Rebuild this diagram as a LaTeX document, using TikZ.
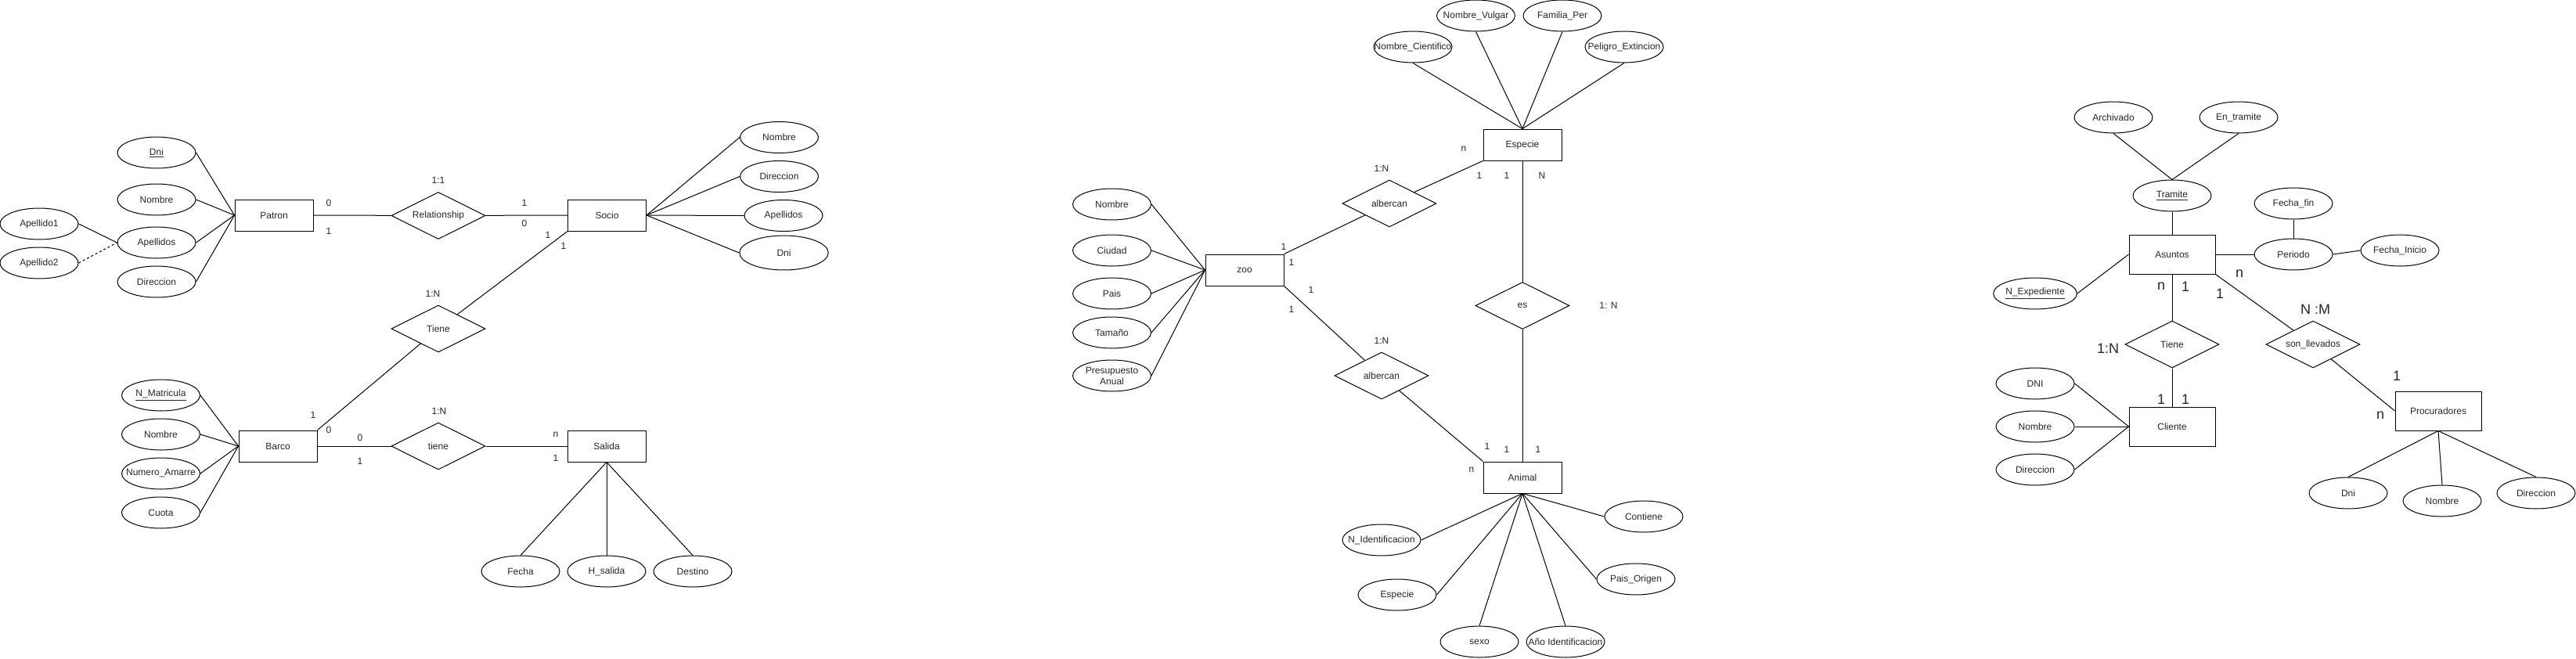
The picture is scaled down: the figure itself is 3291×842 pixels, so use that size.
\documentclass[tikz,border=0pt]{standalone}
\usepackage{fontspec}
\setmainfont{Liberation Sans}
\usetikzlibrary{shapes.geometric}
\newcommand{\zb}[1]{\makebox[0pt][c]{#1}}
\begin{document}
\begin{tikzpicture}[x=0.75pt,y=-0.75pt,
  every node/.style={font=\fontsize{9pt}{10.5pt}\selectfont, text=black!85},
  ent/.style={draw=black, line width=0.75pt, rectangle, minimum width=75pt, minimum height=30pt, inner sep=0pt},
  bigent/.style={ent, minimum width=82.5pt, minimum height=37.5pt},
  attr/.style={draw=black, line width=0.75pt, ellipse, minimum width=75pt, minimum height=30pt, inner sep=0pt},
  rel/.style={draw=black, line width=0.75pt, diamond, aspect=2, minimum width=90pt, minimum height=45pt, inner sep=0pt},
  lbl/.style={inner sep=0pt},
  biglbl/.style={inner sep=0pt, font=\fontsize{13.5pt}{16pt}\selectfont},
  lk/.style={draw=black, line width=0.75pt},
  dlk/.style={lk, dash pattern=on 2.25pt off 2.25pt}
]
\useasboundingbox (0,0) rectangle (3291,842);

% ---------------- Left diagram ----------------
\node[ent] (patron) at (350,275) {Patron};
\node[attr] (pdni) at (200,195) {\underline{Dni}};
\node[attr] (pnom) at (200,255) {Nombre};
\node[attr] (pape) at (200,310) {Apellidos};
\node[attr] (pdir) at (200,360) {Direccion};
\node[attr] (ape1) at (50,286) {Apellido1};
\node[attr] (ape2) at (50,336) {Apellido2};
\foreach \a in {pdni,pnom,pape,pdir} \draw[lk] (\a.east) -- (patron.west);
\draw[lk] (ape1.east) -- (pape.west);
\draw[dlk] (ape2.east) -- (pape.west);

\node[rel] (relship) at (560,275.5) {Relationship};
\node[ent] (socio) at (775.5,275) {Socio};
\draw[lk] (patron.east) -- (relship);
\draw[lk] (relship) -- (socio.west);

\node[attr] (snom) at (995.5,175.5) {Nombre};
\node[attr] (sdir) at (995.5,225.5) {Direccion};
\node[attr] (sape) at (1001,275.5) {Apellidos};
\node[attr, minimum width=85pt, minimum height=33pt] (sdni) at (1001.5,323) {Dni};
\foreach \a in {snom,sdir,sape,sdni} \draw[lk] (socio.east) -- (\a.west);

\node[rel] (tiene1) at (560,420) {Tiene};
\node[ent] (barco) at (355,570) {Barco};
\draw[lk] (barco.north east) -- (tiene1);
\draw[lk] (tiene1) -- (socio.south west);

\node[attr] (bmat) at (205.5,505) {\underline{N\_Matricula}};
\node[attr] (bnom) at (205.5,555) {Nombre};
\node[attr] (bnum) at (205.5,605) {\zb{Numero\_Amarre}};
\node[attr] (bcuo) at (205.5,655) {Cuota};
\foreach \a in {bmat,bnom,bnum,bcuo} \draw[lk] (\a.east) -- (barco.west);

\node[rel] (tiene2) at (560,570) {tiene};
\node[ent] (salida) at (775,570) {Salida};
\draw[lk] (barco.east) -- (tiene2);
\draw[lk] (tiene2) -- (salida.west);

\node[attr] (sfec) at (665,730) {Fecha};
\node[attr] (shsa) at (775,730) {H\_salida};
\node[attr] (sdes) at (885,730) {Destino};
\foreach \a in {sfec,shsa,sdes} \draw[lk] (salida.south) -- (\a.north);

\node[lbl] (l1) at (560,230) {1:1};
\node[lbl] (l2) at (420,259) {0};
\node[lbl] (l3) at (420,295) {1};
\node[lbl] (l4) at (670,259) {1};
\node[lbl] (l5) at (670,285) {0};
\node[lbl] (l6) at (700,300) {1};
\node[lbl] (l7) at (720,314) {1};
\node[lbl] (l8) at (553,375) {1:N};
\node[lbl] (l9) at (400,530) {1};
\node[lbl] (l10) at (420,549) {0};
\node[lbl] (l11) at (460,559) {0};
\node[lbl] (l12) at (460,589) {1};
\node[lbl] (l13) at (561,525) {1:N};
\node[lbl] (l14) at (710,555) {n};
\node[lbl] (l15) at (710,585) {1};

% ---------------- Middle diagram ----------------
\node[ent] (zoo) at (1590,345) {zoo};
\node[attr] (znom) at (1420.5,261) {Nombre};
\node[attr] (zciu) at (1420.5,320) {Ciudad};
\node[attr] (zpai) at (1420.5,375) {Pais};
\node[attr] (ztam) at (1420.5,425) {Tamaño};
\node[attr, align=center] (zpre) at (1420.5,480) {Presupuesto\\Anual};
\foreach \a in {znom,zciu,zpai,ztam,zpre} \draw[lk] (\a.east) -- (zoo.west);

\node[ent] (especie) at (1945,185) {Especie};
\node[attr] (enci) at (1805,60) {\zb{Nombre\_Cientifico}};
\node[attr] (envu) at (1885.5,20) {\zb{Nombre\_Vulgar}};
\node[attr] (efam) at (1996,20) {\zb{Familia\_Per}};
\node[attr] (epel) at (2075,60) {\zb{Peligro\_Extincion}};
\foreach \a in {enci,envu,efam,epel} \draw[lk] (\a.south) -- (especie.north);

\node[rel] (alb1) at (1775,260) {albercan};
\node[rel] (alb2) at (1765,480) {albercan};
\node[rel] (es) at (1945,390.5) {es};
\node[ent] (animal) at (1945,610) {Animal};
\draw[lk] (zoo.north east) -- (alb1);
\draw[lk] (alb1) -- (especie.south west);
\draw[lk] (zoo.south east) -- (alb2);
\draw[lk] (alb2) -- (animal.north west);
\draw[lk] (especie.south) -- (es.north);
\draw[lk] (es.south) -- (animal.north);

\node[attr] (acon) at (2100,660) {Contiene};
\node[attr] (anid) at (1765,690) {\zb{N\_Identificacion}};
\node[attr] (apai) at (2090,740) {Pais\_Origen};
\node[attr] (aesp) at (1785,760) {Especie};
\node[attr] (asex) at (1890,820) {sexo};
\node[attr] (aano) at (2000,820) {\zb{Año Identificacion}};
\draw[lk] (animal.south) -- (acon.west);
\draw[lk] (animal.south) -- (anid.east);
\draw[lk] (animal.south) -- (apai.west);
\draw[lk] (animal.south) -- (aesp.east);
\draw[lk] (animal.south) -- (asex.north);
\draw[lk] (animal.south) -- (aano.north);

\node[lbl] (m1) at (1870,190) {n};
\node[lbl] (m2) at (1765,215) {1:N};
\node[lbl] (m3) at (1890,224) {1};
\node[lbl] (m4) at (1925,224) {1};
\node[lbl] (m5) at (1970,224) {N};
\node[lbl] (m6) at (1640,315) {1};
\node[lbl] (m7) at (1650,335) {1};
\node[lbl] (m8) at (1675,370) {1};
\node[lbl] (m9) at (1650,395) {1};
\node[lbl] (m10) at (1765,435) {1:N};
\node[lbl] (m11) at (2055,390) {1: N};
\node[lbl] (m12) at (1900,570) {1};
\node[lbl] (m13) at (1925,574) {1};
\node[lbl] (m14) at (1965,574) {1};
\node[lbl] (m15) at (1880,600) {n};

% ---------------- Right diagram ----------------
\node[bigent] (asuntos) at (2775,325) {Asuntos};
\node[attr] (tram) at (2775,250) {\underline{Tramite}};
\node[attr] (arch) at (2700,150) {Archivado};
\node[attr] (entr) at (2860,150) {En\_tramite};
\draw[lk] (arch.south) -- (tram.north);
\draw[lk] (entr.south) -- (tram.north);
\draw[lk] (tram.south) -- (asuntos.north);

\node[attr] (peri) at (2930,325) {Periodo};
\node[attr] (ffin) at (2930,260) {Fecha\_fin};
\node[attr] (fini) at (3066,320) {Fecha\_Inicio};
\draw[lk] (asuntos.east) -- (peri.west);
\draw[lk] (ffin.south) -- (peri.north);
\draw[lk] (peri.east) -- (fini.west);

\node[attr] (nexp) at (2600,375) {\underline{N\_Expediente}};
\draw[lk] (nexp.east) -- (asuntos.west);

\node[rel] (tiene3) at (2775,440) {Tiene};
\node[bigent] (cliente) at (2775,545) {Cliente};
\draw[lk] (asuntos.south) -- (tiene3.north);
\draw[lk] (tiene3.south) -- (cliente.north);

\node[attr] (cdni) at (2600,490) {DNI};
\node[attr] (cnom) at (2600,545) {Nombre};
\node[attr] (cdir) at (2600,600) {Direccion};
\foreach \a in {cdni,cnom,cdir} \draw[lk] (\a.east) -- (cliente.west);

\node[rel] (sonll) at (2955,440) {\zb{son\_llevados}};
\node[bigent] (procu) at (3115,525) {Procuradores};
\draw[lk] (asuntos.south east) -- (sonll);
\draw[lk] (sonll) -- (procu.west);

\node[attr] (pcdni) at (3000,630) {Dni};
\node[attr] (pcnom) at (3120,640) {Nombre};
\node[attr] (pcdir) at (3240,630) {Direccion};
\foreach \a in {pcdni,pcnom,pcdir} \draw[lk] (procu.south) -- (\a.north);

\node[biglbl] (r1) at (2761,366) {n};
\node[biglbl] (r2) at (2792,366) {1};
\node[biglbl] (r3) at (2861,350) {n};
\node[biglbl] (r4) at (2836,375) {1};
\node[biglbl] (r5) at (2958,395) {N :M};
\node[biglbl] (r6) at (2693,445) {1:N};
\node[biglbl] (r7) at (2761,510) {1};
\node[biglbl] (r8) at (2792,510) {1};
\node[biglbl] (r9) at (3062,480) {1};
\node[biglbl] (r10) at (3041,531) {n};
\end{tikzpicture}
\end{document}
